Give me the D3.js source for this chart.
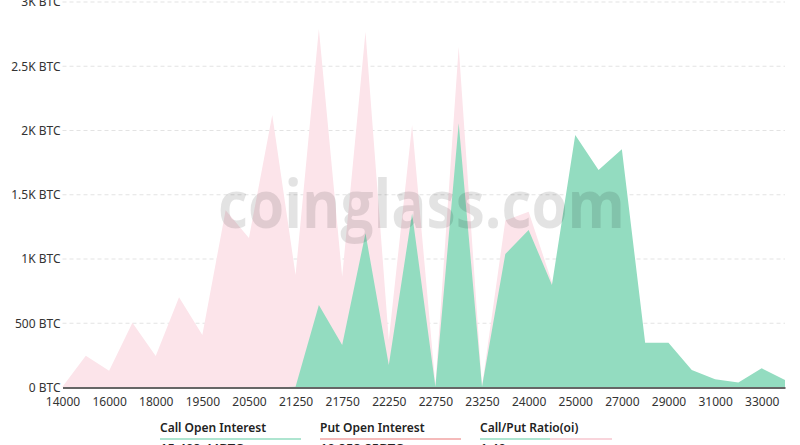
<!DOCTYPE html>
<html>
<head>
<meta charset="utf-8">
<script src="https://cdn.jsdelivr.net/npm/d3@7"></script>
<style>
  html, body { margin: 0; padding: 0; background: #fff; overflow: hidden; }
  svg { display: block; font-family: "Noto Sans", sans-serif; }
</style>
</head>
<body>
<svg id="chart" width="800" height="445"></svg>
<script>
// ---- data ----
const categories = [14000,15000,16000,17000,18000,19000,19500,20000,20500,21000,21250,21500,21750,22000,22250,22500,22750,23000,23250,23500,24000,24500,25000,26000,27000,28000,29000,30000,31000,32000,33000,34000];
const callOI = [0,0,0,0,0,0,0,0,0,0,5,642,331,1200,175,1355,5,2056,5,1039,1226,798,1965,1693,1854,349,349,136,64,38,149,58];
const putOI  = [5,247,131,504,245,702,408,1380,1163,2121,875,2790,862,2769,370,2043,20,2652,10,1300,1368,820,700,500,450,120,80,40,20,10,30,10];
const xTickLabels = [14000,16000,18000,19500,20500,21250,21750,22250,22750,23250,24000,25000,27000,29000,31000,33000];
const yTicks = [0,500,1000,1500,2000,2500,3000];
const legendItems = ["Call Open Interest","Put Open Interest","Call/Put Ratio(oi)"];
const legendValues = ["15,409.44BTC","10,958.85BTC","1.40"];

// ---- layout ----
const svg = d3.select("#chart");
const plotL = 62.5, plotR = 785, plotT = 2, plotB = 387.5;
const x = d3.scalePoint().domain(categories).range([plotL, plotR]);
const y = d3.scaleLinear().domain([0, 3000]).range([plotB, plotT]);

// grid
svg.append("g").selectAll("line")
  .data(yTicks.filter(d => d > 0))
  .join("line")
  .attr("x1", plotL).attr("x2", plotR)
  .attr("y1", d => y(d)).attr("y2", d => y(d))
  .attr("stroke", "#e3e3e3").attr("stroke-width", 1)
  .attr("stroke-dasharray", "4,3");

// areas
const area = vals => d3.area()
  .x((d, i) => x(categories[i]))
  .y0(y(0))
  .y1(d => y(d))(vals);

svg.append("path").attr("d", area(putOI)).attr("fill", "#fce4ea");
svg.append("path").attr("d", area(callOI)).attr("fill", "#93dcc0");

// watermark
svg.append("text")
  .attr("x", 218).attr("y", 228)
  .attr("textLength", 407).attr("lengthAdjust", "spacingAndGlyphs")
  .attr("font-size", 66).attr("font-weight", "bold")
  .attr("font-family", "'Open Sans', 'Noto Sans', sans-serif")
  .attr("fill", "rgba(0,0,0,0.11)")
  .text("coinglass.com");

// y axis
const yAxis = svg.append("g")
  .attr("transform", `translate(${plotL},0)`)
  .call(d3.axisLeft(y).tickValues(yTicks).tickSize(0).tickPadding(2)
    .tickFormat(d => d === 0 ? "0 BTC" : d < 1000 ? d + " BTC" : (d / 1000) + "K BTC"));
yAxis.select(".domain").remove();
yAxis.selectAll("text").attr("font-size", 12).attr("fill", "#333")
  .attr("font-family", "'Noto Sans', sans-serif");

// x axis
const xAxis = svg.append("g")
  .attr("transform", `translate(0,${plotB})`)
  .call(d3.axisBottom(x).tickValues(xTickLabels).tickSize(0).tickPadding(10));
xAxis.select(".domain").attr("stroke", "#666").attr("stroke-width", 2);
xAxis.selectAll("text").attr("font-size", 12).attr("fill", "#333")
  .attr("font-family", "'Noto Sans', sans-serif");

// legend
const legX = [160, 320, 480];
const lg = svg.append("g");
legendItems.forEach((t, i) => {
  lg.append("text").attr("x", legX[i]).attr("y", 432)
    .attr("font-size", 12).attr("font-weight", 600).attr("fill", "#222")
    .text(t);
  lg.append("text").attr("x", legX[i]).attr("y", 453)
    .attr("font-size", 13).attr("font-weight", 600).attr("fill", "#222")
    .text(legendValues[i]);
});
lg.append("line").attr("x1", 160).attr("x2", 301).attr("y1", 439).attr("y2", 439)
  .attr("stroke", "#93dcc0").attr("stroke-width", 1.5);
lg.append("line").attr("x1", 320).attr("x2", 461).attr("y1", 439).attr("y2", 439)
  .attr("stroke", "#f2a3a3").attr("stroke-width", 1.5);
lg.append("line").attr("x1", 480).attr("x2", 550).attr("y1", 439).attr("y2", 439)
  .attr("stroke", "#93dcc0").attr("stroke-width", 1.5);
lg.append("line").attr("x1", 550).attr("x2", 612).attr("y1", 439).attr("y2", 439)
  .attr("stroke", "#f7c6cf").attr("stroke-width", 1.5);
</script>
</body>
</html>
